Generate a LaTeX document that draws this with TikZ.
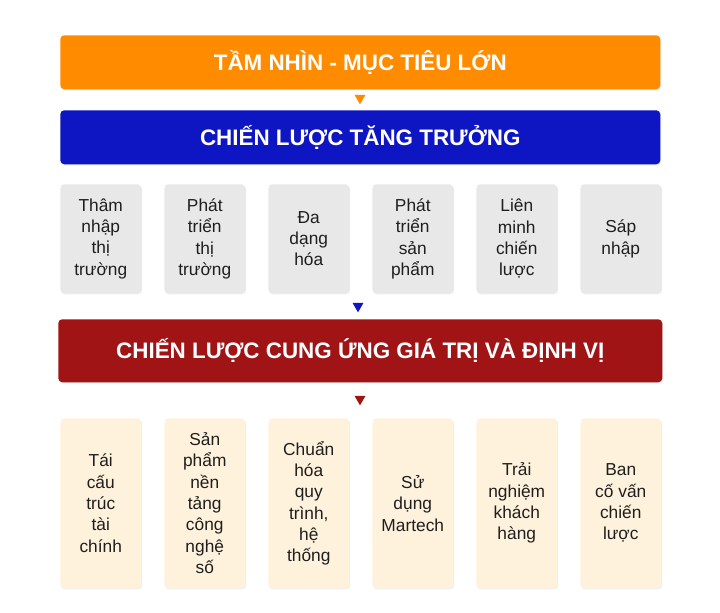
\documentclass[tikz,border=0pt]{standalone}
\usepackage{fontspec}
\setmainfont{Liberation Sans}
\usepackage{tikz}
\usetikzlibrary{shapes.geometric,shadows}

\definecolor{VisionOrange}{RGB}{255,140,0}
\definecolor{GrowthBlue}{RGB}{14,22,196}
\definecolor{ValueRed}{RGB}{160,20,22}
\definecolor{TileGray}{RGB}{232,232,232}
\definecolor{TileCream}{RGB}{255,242,220}
\definecolor{TextDark}{RGB}{30,30,30}

\tikzset{
	bar/.style={rectangle, rounded corners=3pt, anchor=north west, inner sep=0pt,
		text=white, font=\fontsize{16.8}{20}\selectfont\bfseries,
		drop shadow={opacity=0.12, shadow xshift=0.6pt, shadow yshift=-0.9pt}},
	tile/.style={rectangle, rounded corners=3pt, anchor=north west, inner sep=0pt,
		align=center, text=TextDark, font=\fontsize{13}{16}\selectfont,
		minimum width=60.75pt,
		drop shadow={opacity=0.12, shadow xshift=0.6pt, shadow yshift=-0.9pt}},
	growth/.style={tile, fill=TileGray, minimum height=81.75pt},
	value/.style={tile, fill=TileCream, minimum height=127.5pt},
	marker/.style={regular polygon, regular polygon sides=3, shape border rotate=180,
		inner sep=0pt, minimum size=9.5pt},
}

\begin{document}
\begin{tikzpicture}[x=0.75pt, y=-0.75pt]
	\useasboundingbox[fill=white] (0,0) rectangle (720,612);

	% top bars
	\node[bar, fill=VisionOrange, minimum width=450pt, minimum height=40.5pt] (vision) at (60,35) {TẦM NHÌN - MỤC TIÊU LỚN};
	\node[marker, fill=VisionOrange] (m1) at (360,98) {};
	\node[bar, fill=GrowthBlue, minimum width=450pt, minimum height=40.5pt] (growth) at (60,110) {CHIẾN LƯỢC TĂNG TRƯỞNG};

	% growth options
	\node[growth] (g1) at (60,184) {Thâm\\nhập\\thị\\trường};
	\node[growth] (g2) at (164,184) {Phát\\triển\\thị\\trường};
	\node[growth] (g3) at (268,184) {Đa\\dạng\\hóa};
	\node[growth] (g4) at (372,184) {Phát\\triển\\sản\\phẩm};
	\node[growth] (g5) at (476,184) {Liên\\minh\\chiến\\lược};
	\node[growth] (g6) at (580,184) {Sáp\\nhập};

	\node[marker, fill=GrowthBlue] (m2) at (358,306) {};
	\node[bar, fill=ValueRed, minimum width=453pt, minimum height=47.25pt] (value) at (58,319) {CHIẾN LƯỢC CUNG ỨNG GIÁ TRỊ VÀ ĐỊNH VỊ};
	\node[marker, fill=ValueRed] (m3) at (360,399) {};

	% value levers
	\node[value] (v1) at (60,418) {Tái\\cấu\\trúc\\tài\\chính};
	\node[value] (v2) at (164,418) {Sản\\phẩm\\nền\\tảng\\công\\nghệ\\số};
	\node[value] (v3) at (268,418) {Chuẩn\\hóa\\quy\\trình,\\hệ\\thống};
	\node[value] (v4) at (372,418) {Sử\\dụng\\Martech};
	\node[value] (v5) at (476,418) {Trải\\nghiệm\\khách\\hàng};
	\node[value] (v6) at (580,418) {Ban\\cố vấn\\chiến\\lược};
\end{tikzpicture}
\end{document}
